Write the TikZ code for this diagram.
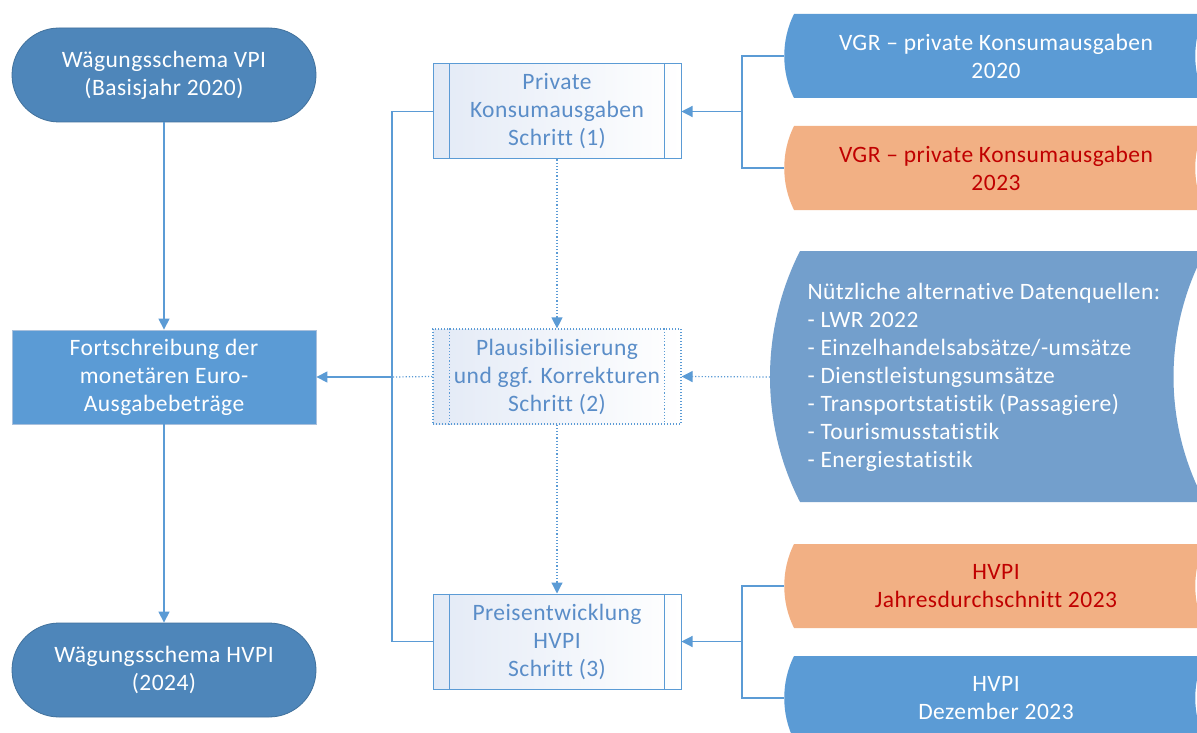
\documentclass[tikz,border=0pt]{standalone}
\usepackage{fontspec}
\setmainfont{Carlito}[Ligatures={NoCommon}, LetterSpace=2]
\usetikzlibrary{arrows.meta,shapes.misc}
\definecolor{dblue}{HTML}{4E86BA}
\definecolor{dblueb}{HTML}{41719C}
\definecolor{mblue}{HTML}{5B9BD5}
\definecolor{gblue}{HTML}{739FCC}
\definecolor{orng}{HTML}{F2B084}
\definecolor{dred}{HTML}{C00000}
\definecolor{ptext}{HTML}{5A8DC8}
\definecolor{pfill}{HTML}{E3EAF6}
\definecolor{lborder}{HTML}{A9C0DC}
\begin{document}
\begin{tikzpicture}[x=1pt,y=-1pt,
  every node/.style={font=\fontsize{23.5}{28}\selectfont, align=center},
  term/.style={rounded rectangle, fill=dblue, draw=dblueb, line width=0.8pt, text=white, minimum width=304pt, minimum height=94pt, inner sep=0pt},
  mainbox/.style={rectangle, fill=mblue, draw=lborder, line width=0.8pt, text=white, minimum width=304pt, minimum height=94pt, inner sep=0pt},
  proc/.style={rectangle, left color=pfill, right color=white, draw=mblue, line width=1pt, text=ptext, minimum width=248pt, minimum height=95pt, inner sep=0pt},
  procdot/.style={proc, draw=mblue, dotted, line width=1.2pt},
  storetext/.style={text=white},
  conn/.style={draw=mblue, line width=1.2pt},
  arr/.style={conn, -{Triangle[length=11pt,width=11pt]}},
  dotconn/.style={conn, dotted},
  dotarr/.style={dotconn, -{Triangle[length=11pt,width=11pt]}},
]
\useasboundingbox (0,0) rectangle (1197,733);
\fill[white] (0,0) rectangle (1197,733);

% data stores (clipped at the page edge)
\begin{scope}
\clip (0,0) rectangle (1197,733);
\fill[mblue] (794,14) -- (1205,14) .. controls (1192,40) and (1192,72) .. (1205,98) -- (794,98) .. controls (781,72) and (781,40) .. cycle;
\fill[orng] (794,126) -- (1205,126) .. controls (1192,152) and (1192,184) .. (1205,210) -- (794,210) .. controls (781,184) and (781,152) .. cycle;
\fill[gblue] (800,251) -- (1205,251) .. controls (1163,330) and (1163,424) .. (1205,502) -- (800,502) .. controls (760,424) and (760,330) .. cycle;
\fill[orng] (794,544) -- (1205,544) .. controls (1192,570) and (1192,602) .. (1205,628) -- (794,628) .. controls (781,602) and (781,570) .. cycle;
\fill[mblue] (794,656) -- (1205,656) .. controls (1192,682) and (1192,714) .. (1205,740) -- (794,740) .. controls (781,714) and (781,682) .. cycle;
\end{scope}

\node[storetext] (s1) at (996,56) {VGR -- private Konsumausgaben\\2020};
\node[text=dred] (s2) at (996,168) {VGR -- private Konsumausgaben\\2023};
\node[storetext, align=left, anchor=west] (s3) at (804,377) {Nützliche alternative Datenquellen:\\- LWR 2022\\- Einzelhandelsabsätze/-umsätze\\- Dienstleistungsumsätze\\- Transportstatistik (Passagiere)\\- Tourismusstatistik\\- Energiestatistik};
\node[text=dred] (s4) at (996,586) {HVPI\\Jahresdurchschnitt 2023};
\node[storetext] (s5) at (996,698) {HVPI\\Dezember 2023};

\coordinate (s1w) at (784,56);
\coordinate (s2w) at (784,168);
\coordinate (s3w) at (770,377);
\coordinate (s4w) at (784,586);
\coordinate (s5w) at (784,698);

% left column
\node[term] (t1) at (164,75) {Wägungsschema VPI\\(Basisjahr 2020)};
\node[mainbox] (f) at (164,377) {Fortschreibung der\\monetären Euro-\\Ausgabebeträge};
\node[term] (t2) at (164,670) {Wägungsschema HVPI\\(2024)};

% middle column
\node[proc] (p1) at (557,111.5) {Private\\Konsumausgaben\\Schritt (1)};
\node[procdot] (p2) at (557,376.5) {Plausibilisierung\\und ggf. Korrekturen\\Schritt (2)};
\node[proc] (p3) at (557,641.5) {Preisentwicklung\\HVPI\\Schritt (3)};
\draw[conn] ([xshift=17pt]p1.north west) -- ([xshift=17pt]p1.south west);
\draw[conn] ([xshift=-17pt]p1.north east) -- ([xshift=-17pt]p1.south east);
\draw[dotconn] ([xshift=17pt]p2.north west) -- ([xshift=17pt]p2.south west);
\draw[dotconn] ([xshift=-17pt]p2.north east) -- ([xshift=-17pt]p2.south east);
\draw[conn] ([xshift=17pt]p3.north west) -- ([xshift=17pt]p3.south west);
\draw[conn] ([xshift=-17pt]p3.north east) -- ([xshift=-17pt]p3.south east);

% connectors
\draw[arr] (t1.south) -- (f.north);
\draw[arr] (f.south) -- (t2.north);
\coordinate (j) at (392,377);
\draw[conn] (p1.west) -| (j) |- (p3.west);
\draw[arr] (j) -- (f.east);
\draw[dotconn] (p2.west) -- (j);
\draw[dotarr] (p1.south) -- (p2.north);
\draw[dotarr] (p2.south) -- (p3.north);

\coordinate (b1) at (742,111.5);
\draw[conn] (s1w) -| (b1) |- (s2w);
\draw[arr] (b1) -- (p1.east);
\draw[dotarr] (s3w) -- (p2.east);
\coordinate (b2) at (742,641.5);
\draw[conn] (s4w) -| (b2) |- (s5w);
\draw[arr] (b2) -- (p3.east);
\end{tikzpicture}
\end{document}
